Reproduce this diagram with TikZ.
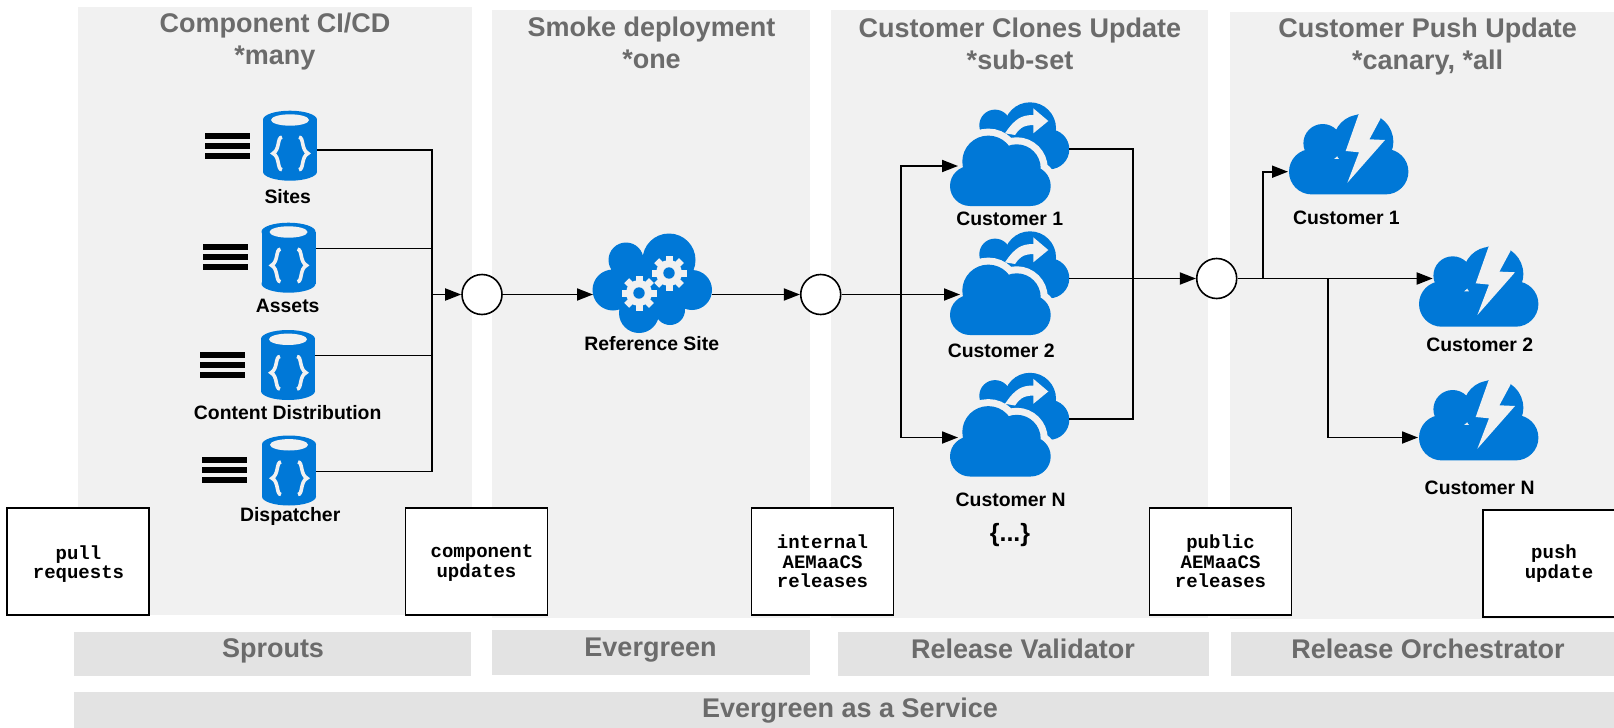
\documentclass[tikz,border=0pt]{standalone}
\usepackage{fontspec}
\setmainfont{Liberation Sans}
\setmonofont{Liberation Mono}
\usetikzlibrary{arrows.meta}

\definecolor{iconblue}{HTML}{0078D7}
\definecolor{panelgray}{HTML}{F1F1F1}
\definecolor{bargray}{HTML}{E3E3E3}
\definecolor{titlegray}{HTML}{6B6B6B}

\tikzset{
    panelbox/.style={rectangle, fill=panelgray, inner sep=0pt},
    barbox/.style={rectangle, fill=bargray, inner sep=0pt},
    bartext/.style={inner sep=0pt, text=titlegray, font=\fontsize{27}{30}\selectfont\bfseries},
    paneltitle/.style={align=center, inner sep=0pt, text=titlegray, font=\fontsize{27}{32}\selectfont\bfseries},
    iconlabel/.style={inner sep=0pt, xshift=0.7pt, yshift=-0.7pt, font=\fontsize{19.4}{22}\selectfont\bfseries},
    relbox/.style={rectangle, draw=black, line width=1.5pt, fill=white, align=center, inner sep=0pt,
        minimum width=142pt, minimum height=107pt, font=\fontsize{19}{19.4}\selectfont\ttfamily\bfseries},
    reltext/.style={align=center, inner sep=0pt, font=\fontsize{19}{19.4}\selectfont\ttfamily\bfseries},
    hub/.style={circle, draw=black, line width=1.6pt, fill=white, minimum size=40pt, inner sep=0pt},
    flow/.style={line width=1.8pt, draw=black},
    flowarrow/.style={flow, -{Triangle[length=16pt,width=12pt]}},
    iconspot/.style={inner sep=0pt, minimum size=0pt}
}

% database with curly braces
\newcommand{\dbicon}[2]{
    \node[iconspot] (#1) at (#2) {};
    \begin{scope}[shift={(#2)}]
        \fill[iconblue] (-27,-26) rectangle (27,26);
        \fill[iconblue] (0,-26) ellipse (27pt and 9pt);
        \fill[iconblue] (0,26) ellipse (27pt and 9pt);
        \fill[panelgray] (0,-25.7) ellipse (19pt and 5.7pt);
        \draw[panelgray, line width=3.6pt] (-8,-8.5) .. controls (-13,-8.5) and (-10,4) .. (-17,7.7) .. controls (-10,11) and (-13,24) .. (-8,24);
        \draw[panelgray, line width=3.6pt] (9,-8.5) .. controls (14,-8.5) and (11,4) .. (18,7.7) .. controls (11,11) and (14,24) .. (9,24);
    \end{scope}
}

% three bars
\newcommand{\stackicon}[2]{
    \begin{scope}[shift={(#1,#2)}]
        \foreach \dy in {-9.8,0,9.8}
            \fill[black] (-22.5,\dy-3) rectangle (22.5,\dy+3);
    \end{scope}
}

\newcommand{\gearicon}[2]{
    \begin{scope}[shift={(#1,#2)}]
        \fill[panelgray] (0,0) circle (13pt);
        \foreach \a in {0,45,...,315}
            \fill[panelgray, rotate=\a] (-3.5,-17.5) rectangle (3.5,-10);
        \fill[iconblue] (0,0) circle (5.7pt);
    \end{scope}
}

% cloud with gears
\newcommand{\gearcloud}[2]{
    \node[iconspot] (#1) at (#2) {};
    \begin{scope}[shift={(#2)}]
        \fill[iconblue] (-26,-23) circle (17.5pt) (17,-23) circle (26.5pt)
            (-39,7) circle (20.5pt) (40,7) circle (20pt)
            (-13,30) circle (20pt) (18,27) circle (15pt) (1,4) circle (30pt);
        \gearicon{-13}{10}
        \gearicon{17}{-10}
    \end{scope}
}

% cloud with a second cloud behind it
\newcommand{\clonecloud}[2]{
    \node[iconspot] (#1) at (#2) {};
    \begin{scope}[shift={(#2)}]
        \fill[iconblue] (-15,-29) circle (15.7pt) (20,-26) circle (26pt) (39.3,-5) circle (20pt);
        \filldraw[panelgray, line width=14pt] (-40,31.7) circle (20pt) (20.7,31.7) circle (20pt)
            (-21.7,7.3) circle (26pt) (6.7,14) circle (24pt);
        \fill[iconblue] (-40,31.7) circle (20pt) (20.7,31.7) circle (20pt)
            (-21.7,7.3) circle (26pt) (6.7,14) circle (24pt) (-40,25) rectangle (20.7,51.7);
        \fill[panelgray] (-5,-21) .. controls (5,-36) and (12,-39.3) .. (23.3,-39.3) -- (23.3,-46) -- (38.3,-33.3)
            -- (23.3,-21) -- (23.3,-29.3) .. controls (12,-29) and (9,-25) .. (5,-19.3) -- cycle;
    \end{scope}
}

% cloud with a flash
\newcommand{\boltcloud}[2]{
    \node[iconspot] (#1) at (#2) {};
    \begin{scope}[shift={(#2)}]
        \fill[iconblue] (-37,17.7) circle (22.7pt) (37,17.7) circle (22.7pt)
            (-26,-10.7) circle (19.3pt) (16.3,-12.3) circle (28.3pt) (12,-12) circle (27.5pt)
            (-37,5) rectangle (37,40.4);
        \fill[panelgray] (10.3,-44) -- (10.3,-40.7) -- (-3,-3) -- (10.3,-1.7) -- (-1.3,28.7) -- (36.3,-14)
            -- (20.7,-14.7) -- (32,-35.7) -- (32,-44) -- cycle;
    \end{scope}
}

\begin{document}
\begin{tikzpicture}[x=1pt, y=-1pt]
    \useasboundingbox (0,0) rectangle (1614,728);
    \clip (0,0) rectangle (1614,728);

    % columns
    \node[panelbox, minimum width=393.5pt, minimum height=608pt] (compPanel) at (274.75,311) {};
    \node[panelbox, minimum width=318pt, minimum height=608pt] (smokePanel) at (651,314) {};
    \node[panelbox, minimum width=377pt, minimum height=608pt] (clonePanel) at (1019.5,314) {};
    \node[panelbox, minimum width=384pt, minimum height=607pt] (pushPanel) at (1422,315.5) {};

    \node[paneltitle] (compTitle) at (275,42) {Component CI/CD\\*many};
    \node[paneltitle] (smokeTitle) at (651.5,42.5) {Smoke deployment\\*one};
    \node[paneltitle] (cloneTitle) at (1020,44) {Customer Clones Update\\*sub-set};
    \node[paneltitle] (pushTitle) at (1427.6,47) {Customer Push Update\\*canary, *all};

    % bars
    \node[barbox, minimum width=397pt, minimum height=44pt] (sproutsBar) at (272.5,654) {};
    \node[bartext] (sproutsText) at (273,650.5) {Sprouts};
    \node[barbox, minimum width=318pt, minimum height=45pt] (evergreenBar) at (651,652.5) {};
    \node[bartext] (evergreenText) at (650.5,650.5) {Evergreen};
    \node[barbox, minimum width=371pt, minimum height=44pt] (validatorBar) at (1023.5,654) {};
    \node[bartext] (validatorText) at (1023,649) {Release Validator};
    \node[barbox, minimum width=383pt, minimum height=44pt] (orchBar) at (1422.5,654) {};
    \node[bartext] (orchText) at (1428,649) {Release Orchestrator};
    \node[barbox, minimum width=1540pt, minimum height=36pt] (serviceBar) at (844,710) {};
    \node[bartext] (serviceText) at (850,711) {Evergreen as a Service};

    % component databases
    \dbicon{sites}{290,145.7}
    \dbicon{assets}{288.5,257.7}
    \dbicon{content}{288,365}
    \dbicon{dispatcher}{289,470.5}
    \stackicon{227.5}{146}
    \stackicon{225.5}{257}
    \stackicon{222}{365}
    \stackicon{224.5}{470}
    \node[iconlabel] (sitesLabel) at (287,196) {Sites};
    \node[iconlabel] (assetsLabel) at (287,305) {Assets};
    \node[iconlabel] (contentLabel) at (287,412) {Content Distribution};
    \node[iconlabel] (dispatcherLabel) at (289.5,516) {Dispatcher};

    \gearcloud{refsite}{652,283}
    \node[iconlabel] (refLabel) at (651,343) {Reference Site};

    % customer clones
    \clonecloud{cloneA}{1010,154.3}
    \clonecloud{cloneB}{1010,283.3}
    \clonecloud{cloneN}{1010,424.8}
    \node[iconlabel] (cloneALabel) at (1009,218) {Customer 1};
    \node[iconlabel] (cloneBLabel) at (1000.5,350) {Customer 2};
    \node[iconlabel] (cloneNLabel) at (1010,499) {Customer N};
    \node[inner sep=0pt, font=\fontsize{25}{27}\selectfont\bfseries] (moreLabel) at (1010,535) {\{...\}};

    % customer push
    \boltcloud{pushA}{1348.7,154}
    \boltcloud{pushB}{1478.7,286.3}
    \boltcloud{pushN}{1478.7,420}
    \node[iconlabel] (pushALabel) at (1345.7,217) {Customer 1};
    \node[iconlabel] (pushBLabel) at (1479,344) {Customer 2};
    \node[iconlabel] (pushNLabel) at (1479,487) {Customer N};

    % gates
    \node[hub] (gateA) at (482,294.5) {};
    \node[hub] (gateB) at (820.7,294.5) {};
    \node[hub] (gateC) at (1216.7,278.5) {};

    % connector ends
    \coordinate (sitesOut) at (317,150);
    \coordinate (assetsOut) at (316,248.7);
    \coordinate (contentOut) at (315,355);
    \coordinate (dispatcherOut) at (316,471.5);
    \coordinate (busTop) at (432,150);
    \coordinate (busBottom) at (432,471.5);
    \coordinate (busMid) at (432,294.5);
    \coordinate (refIn) at (593,294.5);
    \coordinate (refOut) at (712,294.5);
    \coordinate (splitMid) at (900.7,294.5);
    \coordinate (cloneAIn) at (958,166);
    \coordinate (cloneBIn) at (960,294.5);
    \coordinate (cloneNIn) at (958,437.5);
    \coordinate (cloneAOut) at (1069,149);
    \coordinate (cloneBOut) at (1069,278.5);
    \coordinate (cloneNOut) at (1069,419);
    \coordinate (joinTop) at (1132.7,149);
    \coordinate (joinBottom) at (1132.7,419);
    \coordinate (pushAIn) at (1288,171.7);
    \coordinate (pushBIn) at (1432.7,278.5);
    \coordinate (pushNIn) at (1418,437.5);
    \coordinate (forkUp) at (1262.7,278.5);
    \coordinate (forkDown) at (1328,278.5);

    \draw[flow] (sitesOut) -- (busTop) -- (busBottom) -- (dispatcherOut);
    \draw[flow, line width=1.4pt] (assetsOut) -- (assetsOut -| busTop);
    \draw[flow, line width=0.6pt] (contentOut) -- (contentOut -| busTop);
    \draw[flowarrow] (busMid) -- (gateA);
    \draw[flowarrow] (gateA) -- (refIn);
    \draw[flowarrow] (refOut) -- (gateB);
    \draw[flowarrow] (gateB) -- (cloneBIn);
    \draw[flowarrow] (splitMid) |- (cloneAIn);
    \draw[flowarrow] (splitMid) |- (cloneNIn);
    \draw[flow] (cloneAOut) -- (joinTop) -- (joinBottom) -- (cloneNOut);
    \draw[flowarrow] (cloneBOut) -- (gateC);
    \draw[flowarrow] (gateC) -- (pushBIn);
    \draw[flowarrow] (forkUp) |- (pushAIn);
    \draw[flowarrow] (forkDown) |- (pushNIn);

    % release boxes
    \node[relbox] (pullBox) at (78,561.5) {};
    \node[reltext] (pullText) at (78.5,564) {pull\\requests};
    \node[relbox] (updatesBox) at (476.5,561.5) {};
    \node[reltext] (updatesText) at (476.5,563) {\hspace*{11pt}component\\updates};
    \node[relbox] (internalBox) at (822.5,561.5) {internal\\AEMaaCS\\releases};
    \node[relbox] (publicBox) at (1220.5,561.5) {public\\AEMaaCS\\releases};
    \node[relbox] (pushBox) at (1554,563.5) {push\\\hspace*{10pt}update};
\end{tikzpicture}
\end{document}
